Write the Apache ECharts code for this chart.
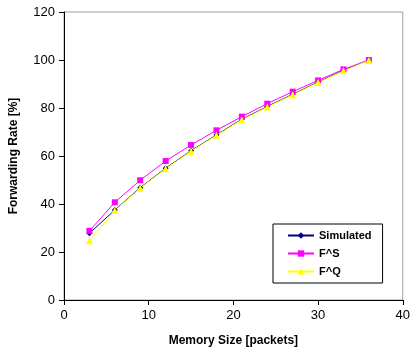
<!DOCTYPE html>
<html>
<head>
<meta charset="utf-8">
<script src="https://cdn.jsdelivr.net/npm/echarts@6/dist/echarts.min.js"></script>
<style>
  html, body { margin: 0; padding: 0; background: #fff; }
  #chart { width: 413px; height: 360px; }
</style>
</head>
<body>
<div id="chart"></div>
<script>
// memory size in packets
var memSize = [3, 6, 9, 12, 15, 18, 21, 24, 27, 30, 33, 36];
// forwarding rate [%]
var simulated = [27.8, 37.5, 46.8, 54.9, 62.2, 68.8, 75.3, 80.6, 85.7, 90.8, 95.7, 100];
var fS = [28.8, 40.7, 49.9, 57.9, 64.6, 70.7, 76.4, 81.8, 86.8, 91.5, 96.1, 100];
var fQ = [24.7, 37.3, 46.6, 54.7, 62.0, 68.6, 75.1, 80.4, 85.5, 90.6, 95.5, 99.8];

function pairs(ys) {
  return memSize.map(function (x, i) { return [x, ys[i]]; });
}

var chart = echarts.init(document.getElementById('chart'));
var font = 'Arial, "Liberation Sans", sans-serif';

chart.setOption({
  animation: false,
  grid: {
    left: 63, right: 10, top: 12, bottom: 60,
    show: true,
    borderColor: '#a0a0a0',
    borderWidth: 1
  },
  xAxis: {
    type: 'value',
    min: 0, max: 40, interval: 10,
    name: 'Memory Size [packets]',
    nameLocation: 'middle',
    nameGap: 35,
    nameTextStyle: { fontFamily: font, fontWeight: 'bold', fontSize: 12, color: '#000' },
    axisLine: { lineStyle: { color: '#000' } },
    axisTick: { show: true, length: 5, lineStyle: { color: '#000' } },
    axisLabel: { fontFamily: font, fontSize: 13, color: '#000', margin: 9 },
    splitLine: { show: false }
  },
  yAxis: {
    type: 'value',
    min: 0, max: 120, interval: 20,
    name: 'Forwarding Rate [%]',
    nameLocation: 'middle',
    nameGap: 44,
    nameTextStyle: { fontFamily: font, fontWeight: 'bold', fontSize: 12, color: '#000' },
    axisLine: { show: true, lineStyle: { color: '#000' } },
    axisTick: { show: true, length: 5, lineStyle: { color: '#000' } },
    axisLabel: { fontFamily: font, fontSize: 13, color: '#000', margin: 9 },
    splitLine: { show: false }
  },
  legend: {
    orient: 'vertical',
    left: 273, top: 224,
    padding: [6, 11, 6, 14],
    itemGap: 7,
    itemWidth: 26,
    itemHeight: 8,
    borderColor: '#000',
    borderWidth: 1,
    backgroundColor: '#fff',
    textStyle: { fontFamily: font, fontWeight: 'bold', fontSize: 11, color: '#000' },
    data: ['Simulated', 'F^S', 'F^Q']
  },
  series: [
    {
      name: 'Simulated', type: 'line', data: pairs(simulated),
      symbol: 'diamond', symbolSize: 6,
      lineStyle: { color: '#000080', width: 1 },
      itemStyle: { color: '#000080' }
    },
    {
      name: 'F^S', type: 'line', data: pairs(fS),
      symbol: 'rect', symbolSize: 6,
      lineStyle: { color: '#ff00ff', width: 1 },
      itemStyle: { color: '#ff00ff' }
    },
    {
      name: 'F^Q', type: 'line', data: pairs(fQ),
      symbol: 'triangle', symbolSize: 7,
      lineStyle: { color: '#ffff00', width: 1 },
      itemStyle: { color: '#ffff00' }
    }
  ]
});
</script>
</body>
</html>
